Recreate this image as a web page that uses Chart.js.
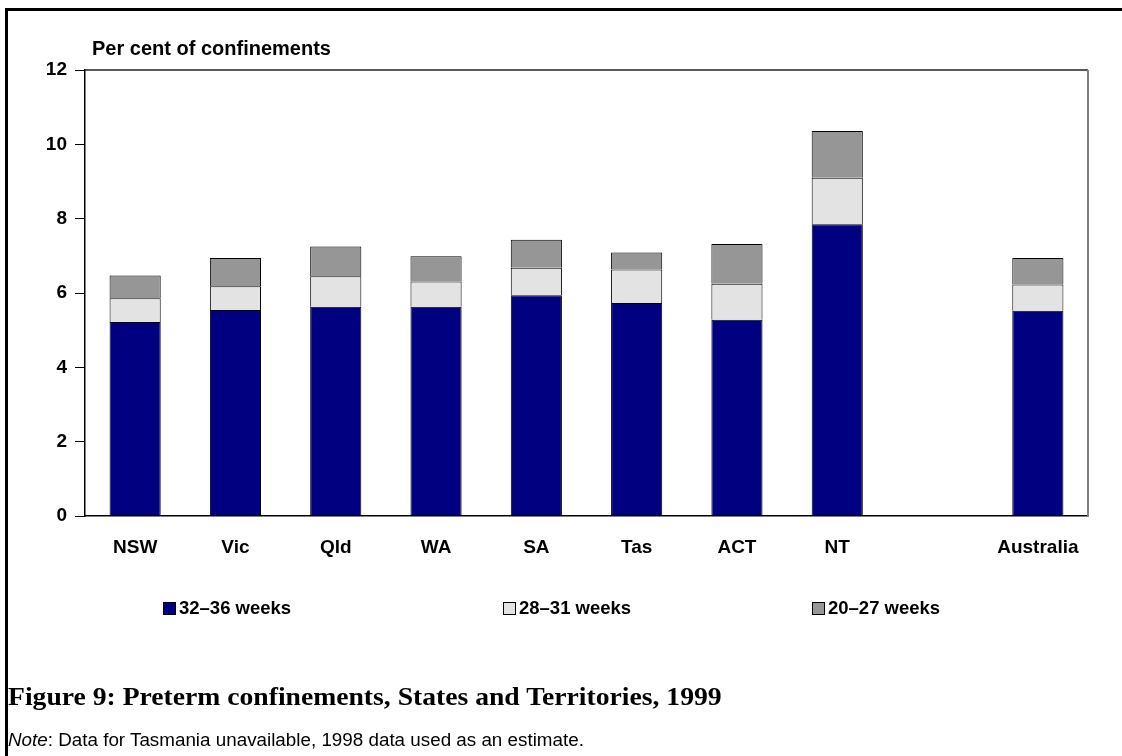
<!DOCTYPE html>
<html lang="en">

<head>
    <meta charset="UTF-8">
    <title>Figure 9: Preterm confinements</title>
    <script src="https://cdn.jsdelivr.net/npm/chart.js"></script>
    <style>
        html, body { margin: 0; padding: 0; background: #fff; }
        #page { position: relative; width: 1122px; height: 756px; overflow: hidden; }
        #frame {
            position: absolute; left: 5px; top: 8px; width: 1130px; height: 760px;
            border-top: 3px solid #000; border-left: 3px solid #000;
        }
        #chart { position: absolute; left: 0; top: 0; }
        .legend-item {
            position: absolute; top: 598px; height: 20px; display: flex; align-items: center;
            font: bold 18.5px "Liberation Sans", Arial, sans-serif; color: #000;
        }
        .legend-item i {
            display: inline-block; width: 11px; height: 11px; border: 1px solid #000; margin-right: 3px;
        }
        #fig-title {
            position: absolute; left: 8px; top: 682px; white-space: nowrap;
            font: bold 26px "Liberation Serif", "Times New Roman", serif; color: #000;
            transform: scaleX(1.063); transform-origin: left center;
        }
        #note {
            position: absolute; left: 8px; top: 730px; white-space: nowrap;
            font: 17.5px "Liberation Sans", Arial, sans-serif; color: #000;
            transform: scaleX(1.075); transform-origin: left center;
        }
    </style>
</head>

<body>
    <div id="page">
        <div id="frame"></div>
        <canvas id="chart" width="1122" height="756"></canvas>
        <div class="legend-item" style="left:163px"><i style="background:#000080"></i>32–36 weeks</div>
        <div class="legend-item" style="left:503px"><i style="background:#e3e3e3"></i>28–31 weeks</div>
        <div class="legend-item" style="left:812px"><i style="background:#969696"></i>20–27 weeks</div>
        <div id="fig-title">Figure 9: Preterm confinements, States and Territories, 1999</div>
        <div id="note"><i>Note</i>: Data for Tasmania unavailable, 1998 data used as an estimate.</div>
    </div>

    <script>
        // categories (blank slot between NT and Australia)
        const states = ['NSW', 'Vic', 'Qld', 'WA', 'SA', 'Tas', 'ACT', 'NT', '', 'Australia'];
        // per cent of confinements, by gestation group
        const weeks32to36 = [5.22, 5.54, 5.63, 5.63, 5.94, 5.73, 5.28, 7.85, null, 5.52];
        const weeks28to31 = [0.64, 0.64, 0.82, 0.68, 0.74, 0.90, 0.97, 1.25, null, 0.71];
        const weeks20to27 = [0.61, 0.76, 0.80, 0.68, 0.75, 0.46, 1.07, 1.26, null, 0.71];
        const yTicks = [0, 2, 4, 6, 8, 10, 12];

        // frame of the plot area + y axis title
        const plotBox = {
            id: 'plotBox',
            afterDraw(chart) {
                const { ctx, chartArea: a } = chart;
                ctx.save();
                ctx.strokeStyle = '#222';
                ctx.lineWidth = 1.5;
                ctx.beginPath();
                ctx.moveTo(a.left, a.top);
                ctx.lineTo(a.right, a.top);
                ctx.stroke();
                ctx.strokeStyle = '#808080';
                ctx.lineWidth = 2;
                ctx.beginPath();
                ctx.moveTo(a.right, a.top);
                ctx.lineTo(a.right, a.bottom);
                ctx.stroke();
                ctx.fillStyle = '#000';
                ctx.font = 'bold 20px "Liberation Sans", Arial, sans-serif';
                ctx.textBaseline = 'alphabetic';
                ctx.fillText('Per cent of confinements', 92, 55);
                ctx.restore();
            }
        };

        const bar = { borderColor: '#000', borderWidth: 1, barPercentage: 0.51, categoryPercentage: 1 };

        new Chart(document.getElementById('chart'), {
            type: 'bar',
            data: {
                labels: states,
                datasets: [
                    Object.assign({ label: '32–36 weeks', data: weeks32to36, backgroundColor: '#000080' }, bar),
                    Object.assign({ label: '28–31 weeks', data: weeks28to31, backgroundColor: '#e3e3e3' }, bar),
                    Object.assign({ label: '20–27 weeks', data: weeks20to27, backgroundColor: '#969696' }, bar)
                ]
            },
            options: {
                responsive: false,
                devicePixelRatio: 1,
                animation: false,
                layout: { padding: { top: 70, right: 34, bottom: 0, left: 0 } },
                plugins: { legend: { display: false }, tooltip: { enabled: false } },
                scales: {
                    x: {
                        stacked: true,
                        afterFit: (s) => { s.height = 240; },
                        grid: { display: false },
                        border: { color: '#000', width: 1.5 },
                        ticks: {
                            color: '#000', padding: 12,
                            font: { family: '"Liberation Sans", Arial, sans-serif', size: 19, weight: 'bold' }
                        }
                    },
                    y: {
                        stacked: true,
                        min: 0,
                        max: 12,
                        afterFit: (s) => { s.width = 85; },
                        afterBuildTicks: (s) => { s.ticks = yTicks.map(v => ({ value: v })); },
                        grid: { drawOnChartArea: false, drawTicks: true, tickLength: 10, color: '#000', lineWidth: 1 },
                        border: { color: '#000', width: 1.5 },
                        ticks: {
                            color: '#000', padding: 8,
                            font: { family: '"Liberation Sans", Arial, sans-serif', size: 19, weight: 'bold' }
                        }
                    }
                }
            },
            plugins: [plotBox]
        });
    </script>
</body>

</html>
